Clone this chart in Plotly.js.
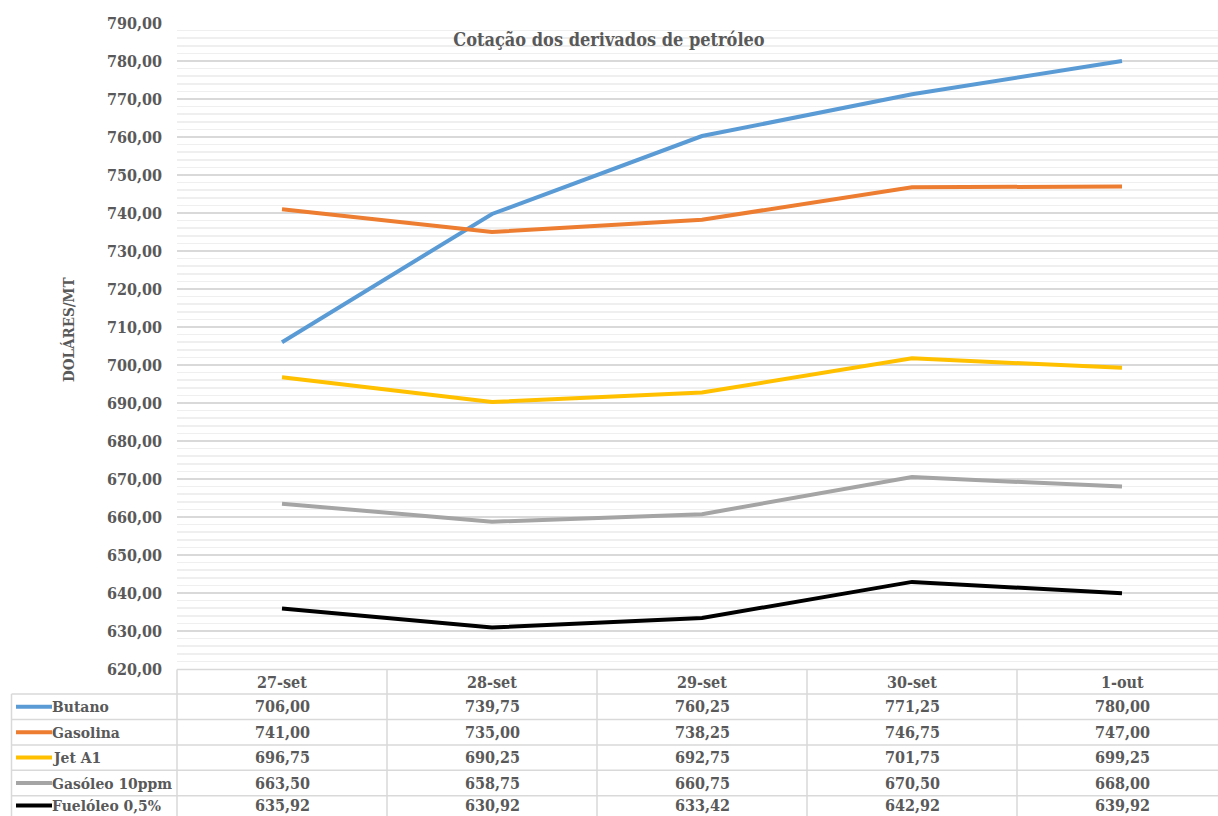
<!DOCTYPE html>
<html>
<head>
<meta charset="utf-8">
<script src="https://cdn.plot.ly/plotly-3.0.1.min.js"></script>
<style>html,body{margin:0;padding:0;background:#fff;}#chart{width:1218px;height:816px;}</style>
</head>
<body>
<div id="chart"></div>
<script>
const categories = ['27-set', '28-set', '29-set', '30-set', '1-out'];
const seriesNames = ['Butano', 'Gasolina', 'Jet A1', 'Gasóleo 10ppm', 'Fuelóleo 0,5%'];
const butano = [706.00, 739.75, 760.25, 771.25, 780.00];
const gasolina = [741.00, 735.00, 738.25, 746.75, 747.00];
const jetA1 = [696.75, 690.25, 692.75, 701.75, 699.25];
const gasoleo = [663.50, 658.75, 660.75, 670.50, 668.00];
const fueloleo = [635.92, 630.92, 633.42, 642.92, 639.92];
const seriesColors = ['#5B9BD5', '#ED7D31', '#FFC000', '#A5A5A5', '#000000'];
const seriesValues = [butano, gasolina, jetA1, gasoleo, fueloleo];

const W = 1218, H = 816, ML = 177, MR = 0, MT = 23, MB = 147;
const PW = W - ML - MR, PH = H - MT - MB;
const px2x = p => (p - ML) / PW;
const py2y = p => (H - MB - p) / PH;

const FONT = 'DejaVu Serif Condensed, DejaVu Serif, serif';
const TXT = '#595959';
const GRID = '#d9d9d9';

const traces = seriesValues.map((vals, i) => ({
  type: 'scatter', mode: 'lines', name: seriesNames[i],
  x: categories, y: vals,
  line: {color: seriesColors[i], width: 4},
  hoverinfo: 'skip'
}));

const fmt = v => v.toFixed(2).replace('.', ',');

const rowLines = [694, 719.5, 745, 770.3, 795.7];
const rowCenters = [706.8, 732.2, 757.6, 783, 805.5];
const headerCenter = 682;

const shapes = [];
const annotations = [];
shapes.push({type: 'line', xref: 'paper', yref: 'paper', x0: 0, x1: 1, y0: py2y(669.5), y1: py2y(669.5), line: {color: GRID, width: 1.5}});
rowLines.forEach(r => shapes.push({type: 'line', xref: 'paper', yref: 'paper', x0: px2x(11.5), x1: 1, y0: py2y(r), y1: py2y(r), line: {color: GRID, width: 1.5}}));
shapes.push({type: 'line', xref: 'paper', yref: 'paper', x0: 0, x1: 0, y0: py2y(669.5), y1: py2y(820), line: {color: GRID, width: 1.5}});
shapes.push({type: 'line', xref: 'paper', yref: 'paper', x0: px2x(11.5), x1: px2x(11.5), y0: py2y(694), y1: py2y(820), line: {color: GRID, width: 1.5}});
for (let i = 0; i < categories.length - 1; i++) {
  shapes.push({type: 'line', xref: 'x', yref: 'paper', x0: i + 0.5, x1: i + 0.5, y0: py2y(669.5), y1: py2y(820), line: {color: GRID, width: 1.5}});
}
categories.forEach(c => annotations.push({xref: 'x', yref: 'paper', x: c, y: py2y(headerCenter), text: c, showarrow: false, xanchor: 'center', yanchor: 'middle', font: {family: FONT, size: 16, color: TXT, weight: 'bold'}}));
seriesNames.forEach((n, i) => {
  const yc = py2y(rowCenters[i]);
  shapes.push({type: 'line', xref: 'paper', yref: 'paper', x0: px2x(16), x1: px2x(52), y0: yc, y1: yc, line: {color: seriesColors[i], width: 4}});
  annotations.push({xref: 'paper', yref: 'paper', x: px2x(50), y: yc, text: n, showarrow: false, xanchor: 'left', yanchor: 'middle', font: {family: FONT, size: 15.5, color: TXT, weight: 'bold'}});
  seriesValues[i].forEach((v, j) => annotations.push({xref: 'x', yref: 'paper', x: categories[j], y: yc, text: fmt(v), showarrow: false, xanchor: 'center', yanchor: 'middle', font: {family: FONT, size: 16, color: TXT, weight: 'bold'}}));
});
annotations.push({xref: 'paper', yref: 'paper', x: px2x(69), y: py2y(330), text: 'DOLÁRES/MT', textangle: -90, showarrow: false, xanchor: 'center', yanchor: 'middle', font: {family: FONT, size: 15, color: TXT, weight: 'bold'}});

const layout = {
  width: W, height: H,
  margin: {l: ML, r: MR, t: MT, b: MB, pad: 0},
  paper_bgcolor: '#ffffff', plot_bgcolor: '#ffffff',
  separators: ',.',
  showlegend: false,
  title: {text: 'Cotação dos derivados de petróleo', x: 0.5, xref: 'container', xanchor: 'center', y: 1 - 40 / H, yref: 'container', yanchor: 'middle', font: {family: FONT, size: 18, color: TXT, weight: 'bold'}},
  xaxis: {type: 'category', range: [-0.5, -0.5 + PW / 210], showgrid: false, zeroline: false, showline: false, showticklabels: false, ticks: '', fixedrange: true},
  yaxis: {range: [620, 790], dtick: 10, tick0: 620, tickformat: '.2f', showgrid: true, gridcolor: GRID, gridwidth: 1.5, zeroline: false, showline: false, ticks: '', ticklabelstandoff: 14,
    tickfont: {family: FONT, size: 16, color: TXT, weight: 'bold'},
    minor: {dtick: 2, showgrid: true, gridcolor: '#efefef', gridwidth: 1.5}},
  shapes: shapes,
  annotations: annotations
};

Plotly.newPlot('chart', traces, layout, {staticPlot: true, displayModeBar: false});
</script>
</body>
</html>
